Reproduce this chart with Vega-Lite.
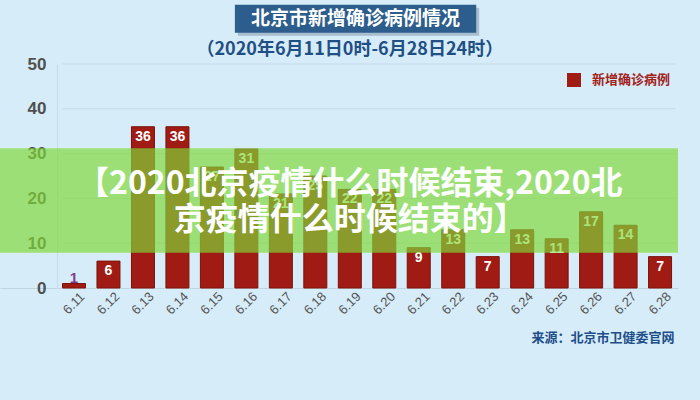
{
  "$schema": "https://vega.github.io/schema/vega-lite/v6.json",
  "width": 678,
  "height": 224,
  "autosize": {"type": "none"},
  "padding": {"left": 0, "right": 22, "top": 64, "bottom": 112},
  "background": "#d6ecf9",
  "config": {"view": {"stroke": null}, "font": "Noto Sans CJK SC"},
  "datasets": {
    "cases": [
      {"date": "6.11", "n": 1},
      {"date": "6.12", "n": 6},
      {"date": "6.13", "n": 36},
      {"date": "6.14", "n": 36},
      {"date": "6.15", "n": 27},
      {"date": "6.16", "n": 31},
      {"date": "6.17", "n": 21},
      {"date": "6.18", "n": 25},
      {"date": "6.19", "n": 22},
      {"date": "6.20", "n": 22},
      {"date": "6.21", "n": 9},
      {"date": "6.22", "n": 13},
      {"date": "6.23", "n": 7},
      {"date": "6.24", "n": 13},
      {"date": "6.25", "n": 11},
      {"date": "6.26", "n": 17},
      {"date": "6.27", "n": 14},
      {"date": "6.28", "n": 7}
    ],
    "grid": [{"g": 10}, {"g": 20}, {"g": 30}, {"g": 40}, {"g": 50}],
    "one": [{"k": 1}]
  },
  "layer": [
    {
      "data": {"name": "grid"},
      "mark": {"type": "rule", "color": "#c4dbe8", "strokeWidth": 1, "x2Offset": 4},
      "encoding": {
        "y": {"field": "g", "type": "quantitative"},
        "x": {"datum": "6.11", "type": "ordinal", "bandPosition": 0},
        "x2": {"datum": "6.28", "bandPosition": 1}
      }
    },
    {
      "data": {"name": "cases"},
      "mark": {"type": "bar", "stroke": "#7c120b", "strokeWidth": 1},
      "encoding": {
        "x": {
          "field": "date",
          "type": "ordinal",
          "scale": {"paddingInner": 0.333, "paddingOuter": 1, "align": 0.9066},
          "axis": {
            "title": null,
            "labelAngle": -45,
            "labelAlign": "center",
            "labelBaseline": "middle",
            "labelFontSize": 13,
            "labelColor": "#555555",
            "labelFont": "Liberation Sans",
            "ticks": false,
            "labelPadding": 15,
            "domainColor": "#bfd5e2"
          }
        },
        "y": {
          "field": "n",
          "type": "quantitative",
          "scale": {"domain": [0, 50]},
          "axis": {
            "title": null,
            "values": [0, 10, 20, 30, 40, 50],
            "offset": -57,
            "grid": false,
            "ticks": false,
            "tickSize": 0,
            "labelPadding": 11,
            "labelFontSize": 17,
            "labelFontWeight": "bold",
            "labelColor": "#505050",
            "labelFont": "Liberation Sans",
            "domainColor": "#c4dbe8"
          }
        },
        "color": {
          "datum": "新增确诊病例",
          "type": "nominal",
          "scale": {"range": ["#a01b13"]},
          "legend": {
            "orient": "none",
            "legendX": 567,
            "legendY": 9,
            "title": null,
            "symbolType": "square",
            "symbolSize": 196,
            "symbolStrokeWidth": 0,
            "labelFontSize": 13,
            "labelFontWeight": "bold",
            "labelColor": "#a3211b",
            "labelOffset": 11,
            "padding": 0
          }
        }
      }
    },
    {
      "data": {"name": "cases"},
      "transform": [{"filter": "datum.n >= 3"}],
      "mark": {"type": "text", "baseline": "top", "dy": 3, "color": "white", "fontSize": 14, "fontWeight": "bold", "font": "Liberation Sans"},
      "encoding": {
        "x": {"field": "date", "type": "ordinal"},
        "y": {"field": "n", "type": "quantitative"},
        "text": {"field": "n"}
      }
    },
    {
      "data": {"name": "cases"},
      "transform": [{"filter": "datum.n < 3"}],
      "mark": {"type": "text", "baseline": "alphabetic", "dy": -1, "color": "#7d3f8c", "fontSize": 15, "fontWeight": "bold", "font": "Liberation Sans"},
      "encoding": {
        "x": {"field": "date", "type": "ordinal"},
        "y": {"field": "n", "type": "quantitative"},
        "text": {"field": "n"}
      }
    },
    {
      "data": {"name": "one"},
      "mark": {"type": "rect", "color": "#80d838", "opacity": 0.68, "x2Offset": 22},
      "encoding": {
        "y": {"datum": 31.2, "type": "quantitative"},
        "y2": {"datum": 7.85}
      }
    },
    {
      "data": {"values": [{"t": ["【2020北京疫情什么时候结束,2020北", "京疫情什么时候结束的】"]}]},
      "mark": {"type": "text", "color": "white", "fontSize": 32, "fontWeight": "bold", "font": "Noto Sans CJK SC", "lineHeight": 36, "baseline": "middle", "align": "center"},
      "encoding": {
        "x": {"datum": "6.19", "type": "ordinal"},
        "y": {"datum": 23.3, "type": "quantitative"},
        "text": {"field": "t"}
      }
    },
    {
      "data": {"name": "one"},
      "mark": {"type": "rect", "color": "#1d3550", "opacity": 0.25, "xOffset": 3, "x2Offset": 3, "yOffset": 3, "y2Offset": 3},
      "encoding": {
        "x": {"datum": "6.16", "type": "ordinal", "bandPosition": 0},
        "x2": {"datum": "6.23", "bandPosition": 0},
        "y": {"datum": 63.2, "type": "quantitative"},
        "y2": {"datum": 57.0}
      }
    },
    {
      "data": {"name": "one"},
      "mark": {"type": "rect", "color": "#2c5d8c"},
      "encoding": {
        "x": {"datum": "6.16", "type": "ordinal", "bandPosition": 0},
        "x2": {"datum": "6.23", "bandPosition": 0},
        "y": {"datum": 63.2, "type": "quantitative"},
        "y2": {"datum": 57.0}
      }
    },
    {
      "data": {"values": [{"t": "北京市新增确诊病例情况"}]},
      "mark": {"type": "text", "color": "white", "fontSize": 19, "fontWeight": "bold", "font": "Noto Sans CJK SC", "baseline": "middle", "align": "center"},
      "encoding": {
        "x": {"datum": "6.19", "type": "ordinal", "bandPosition": 0.75},
        "y": {"datum": 60.1, "type": "quantitative"},
        "text": {"field": "t"}
      }
    },
    {
      "data": {"values": [{"t": "（2020年6月11日0时-6月28日24时）"}]},
      "mark": {"type": "text", "color": "#1f4f84", "fontSize": 18, "fontWeight": "bold", "font": "Noto Sans CJK SC", "baseline": "middle", "align": "center"},
      "encoding": {
        "x": {"datum": "6.19", "type": "ordinal"},
        "y": {"datum": 53.2, "type": "quantitative"},
        "text": {"field": "t"}
      }
    },
    {
      "data": {"values": [{"t": "来源：北京市卫健委官网"}]},
      "mark": {"type": "text", "color": "#1f4f8a", "fontSize": 13, "fontWeight": "bold", "font": "Noto Sans CJK SC", "baseline": "middle", "align": "right", "dx": 3},
      "encoding": {
        "x": {"datum": "6.28", "type": "ordinal", "bandPosition": 1},
        "y": {"datum": -11.2, "type": "quantitative"},
        "text": {"field": "t"}
      }
    }
  ]
}
